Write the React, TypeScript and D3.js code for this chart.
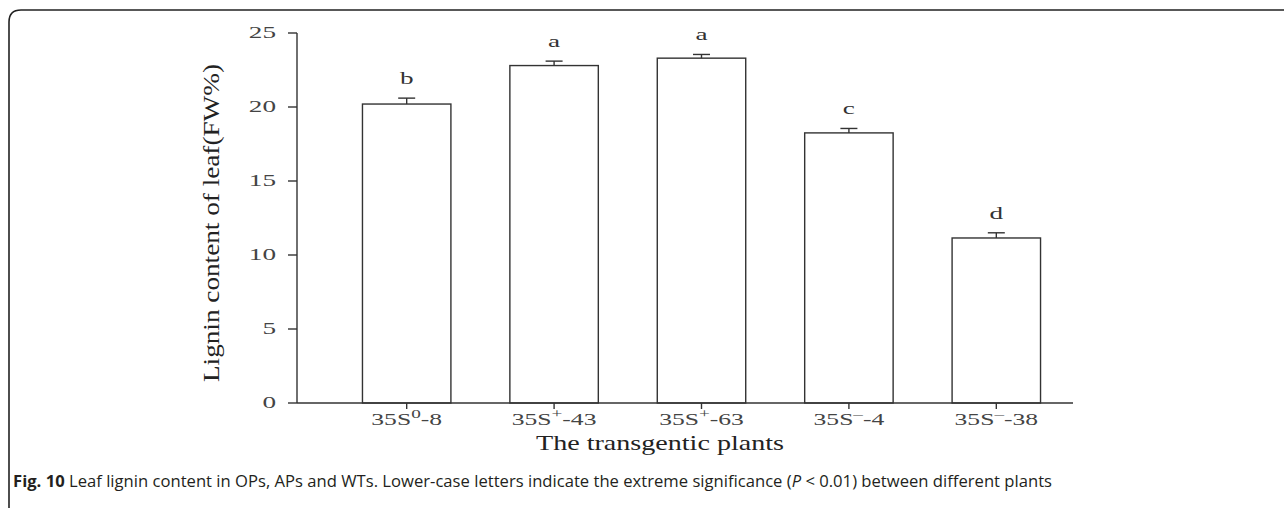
import React from 'react';
import * as d3 from 'd3';

// plant lines, as [base, superscript, suffix]
const plantBase = ['35S', '35S', '35S', '35S', '35S'];
const plantSup = ['0', '+', '+', '-', '-'];
const plantSuffix = ['-8', '-43', '-63', '-4', '-38'];
const plantIds = ['p1', 'p2', 'p3', 'p4', 'p5'];

// lignin content (FW%) and standard error
const ligninMean = [20.2, 22.8, 23.3, 18.25, 11.15];
const ligninErr = [0.4, 0.3, 0.25, 0.3, 0.35];
const sigLetters = ['b', 'a', 'a', 'c', 'd'];

const yTicks = [0, 5, 10, 15, 20, 25];

const W = 1284;
const H = 508;
const SERIF = '"Liberation Serif", "Times New Roman", serif';
const stretch = 1.6;

const App = () => {
  const y = d3.scaleLinear().domain([0, 25]).range([403, 33]);
  const x = d3.scaleBand().domain(plantIds).range([303.5, 1099.5]).padding(0.4);
  const axisX0 = 297;
  const axisX1 = 1073;

  return (
    <svg width={W} height={H} style={{ position: 'absolute', left: 0, top: 0, background: '#fff' }}>
      {/* figure frame */}
      <path
        d={`M9,${H} L9,22 Q9,10 21,10 L${W},10`}
        fill="none"
        stroke="#222"
        strokeWidth={1.6}
      />

      {/* bars */}
      {plantIds.map((id, i) => {
        const bx = x(id) as number;
        const cx = bx + x.bandwidth() / 2;
        const top = y(ligninMean[i]);
        const cap = y(ligninMean[i] + ligninErr[i]);
        return (
          <g key={id}>
            <rect
              x={bx}
              y={top}
              width={x.bandwidth()}
              height={y(0) - top}
              fill="#fff"
              stroke="#333"
              strokeWidth={1.4}
            />
            <line x1={cx} x2={cx} y1={top} y2={cap} stroke="#333" strokeWidth={1.4} />
            <line x1={cx - 8.5} x2={cx + 8.5} y1={cap} y2={cap} stroke="#333" strokeWidth={1.4} />
            <text
              transform={`translate(${cx},${cap - 14}) scale(${stretch},1)`}
              textAnchor="middle"
              fontFamily={SERIF}
              fontSize={17}
              fill="#333"
            >
              {sigLetters[i]}
            </text>
          </g>
        );
      })}

      {/* y axis */}
      <line x1={axisX0} x2={axisX0} y1={y(25)} y2={y(0)} stroke="#333" strokeWidth={1.4} />
      {yTicks.map((t) => (
        <g key={t}>
          <line x1={axisX0 - 9} x2={axisX0} y1={y(t)} y2={y(t)} stroke="#333" strokeWidth={1.4} />
          <text
            transform={`translate(${axisX0 - 21},${y(t) + 5}) scale(${stretch},1)`}
            textAnchor="end"
            fontFamily={SERIF}
            fontSize={17}
            fill="#444"
          >
            {t}
          </text>
        </g>
      ))}

      {/* x axis */}
      <line x1={axisX0} x2={axisX1} y1={y(0)} y2={y(0)} stroke="#333" strokeWidth={1.4} />
      {plantIds.map((id, i) => {
        const cx = (x(id) as number) + x.bandwidth() / 2;
        return (
          <g key={id}>
            <line x1={cx} x2={cx} y1={y(0)} y2={y(0) + 6} stroke="#333" strokeWidth={1.4} />
            <text
              transform={`translate(${cx},${y(0) + 22}) scale(${stretch},1)`}
              textAnchor="middle"
              fontFamily={SERIF}
              fontSize={16}
              fill="#444"
            >
              {plantBase[i]}
              <tspan dy={-7} fontSize={12}>{plantSup[i] === '-' ? '\u2013' : plantSup[i]}</tspan>
              <tspan dy={7}>{plantSuffix[i]}</tspan>
            </text>
          </g>
        );
      })}

      {/* axis titles */}
      <text
        transform={`translate(219,${(y(0) + y(25)) / 2 + 5}) rotate(-90)`}
        textAnchor="middle"
        fontFamily={SERIF}
        fontSize={24}
        fill="#222"
        textLength={318}
        lengthAdjust="spacingAndGlyphs"
      >
        Lignin content of leaf(FW%)
      </text>
      <text
        x={(axisX0 + axisX1) / 2 - 25}
        y={450}
        textAnchor="middle"
        fontFamily={SERIF}
        fontSize={22}
        fill="#222"
        textLength={248}
        lengthAdjust="spacingAndGlyphs"
      >
        The transgentic plants
      </text>

      {/* caption */}
      <text
        x={13}
        y={487}
        fontFamily='"Open Sans", "Noto Sans", sans-serif'
        fontSize={15.5}
        fill="#231f20"
        textLength={1039}
        lengthAdjust="spacingAndGlyphs"
      >
        <tspan fontWeight="bold">Fig. 10</tspan>
        <tspan> Leaf lignin content in OPs, APs and WTs. Lower-case letters indicate the extreme significance (</tspan>
        <tspan fontStyle="italic">P</tspan>
        <tspan> &lt; 0.01) between different plants</tspan>
      </text>
    </svg>
  );
};

export default App;
